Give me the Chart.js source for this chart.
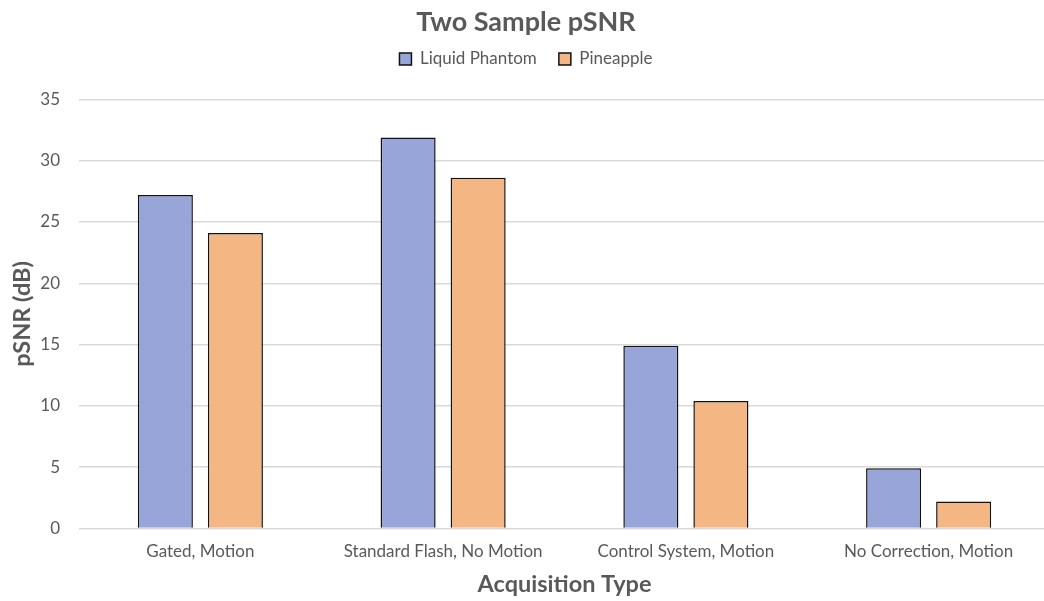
<!DOCTYPE html>
<html>
<head>
<meta charset="utf-8">
<script src="https://cdn.jsdelivr.net/npm/chart.js@4"></script>
<style>
  html, body { margin: 0; padding: 0; background: #ffffff; overflow: hidden; }
  #wrap { width: 1044px; height: 601px; }
</style>
</head>
<body>
<div id="wrap"><canvas id="chart" width="1044" height="601"></canvas></div>
<script>
const categories = ['Gated, Motion', 'Standard Flash, No Motion', 'Control System, Motion', 'No Correction, Motion'];
const liquidPhantom = [27.2, 31.9, 14.9, 4.9];
const pineapple = [24.1, 28.6, 10.4, 2.2];
const seriesNames = ['Liquid Phantom', 'Pineapple'];

const textGray = '#595959';
const fontFamily = 'Lato, "Open Sans", sans-serif';
const plotBleed = 6;   // plot area runs slightly past the right edge of the canvas

// extra breathing room between the legend and the plot
const legendGap = {
  id: 'legendGap',
  beforeInit(chart) {
    const fit = chart.legend.fit;
    chart.legend.fit = function () {
      fit.call(this);
      this.height += 22;
    };
  }
};

// stretch the category axis (and the plot area) past the right edge
const widenPlot = {
  id: 'widenPlot',
  afterLayout(chart) {
    const x = chart.scales.x;
    const r = chart.width + plotBleed;
    x.right = r;
    x.width = r - x.left;
    x.configure();
    chart.chartArea.right = r;
    chart.chartArea.width = r - chart.chartArea.left;
  }
};

new Chart(document.getElementById('chart'), {
  type: 'bar',
  data: {
    labels: categories,
    datasets: [
      {
        label: seriesNames[0],
        data: liquidPhantom,
        backgroundColor: '#97A5D9',
        borderColor: '#111111',
        borderWidth: 1.5,
        borderSkipped: 'bottom'
      },
      {
        label: seriesNames[1],
        data: pineapple,
        backgroundColor: '#F4B784',
        borderColor: '#111111',
        borderWidth: 1.5,
        borderSkipped: 'bottom'
      }
    ]
  },
  plugins: [legendGap, widenPlot],
  options: {
    responsive: false,
    animation: false,
    layout: { padding: { left: 8, right: 0, top: 6, bottom: 2 } },
    datasets: {
      bar: { categoryPercentage: 0.577, barPercentage: 0.786 }
    },
    plugins: {
      title: {
        display: true,
        text: 'Two Sample pSNR',
        color: textGray,
        font: { family: fontFamily, size: 27, weight: 'bold' },
        padding: { top: 0, bottom: -10 }
      },
      legend: {
        display: true,
        position: 'top',
        labels: {
          color: textGray,
          font: { family: fontFamily, size: 17 },
          boxWidth: 12,
          boxHeight: 12,
          padding: 22
        }
      },
      tooltip: { enabled: false }
    },
    scales: {
      x: {
        grid: { display: false, drawTicks: false },
        border: { display: false },
        ticks: {
          color: textGray,
          font: { family: fontFamily, size: 17 },
          padding: 13,
          maxRotation: 0
        },
        title: {
          display: true,
          text: 'Acquisition Type',
          color: textGray,
          font: { family: fontFamily, size: 23.5, weight: 'bold' },
          padding: { top: -4, bottom: 0 }
        },
        afterFit(scale) {
          scale.paddingLeft = 0;
          scale.paddingRight = 0;
        }
      },
      y: {
        min: 0,
        max: 35,
        grid: { color: '#d9d9d9', lineWidth: 1.5, drawTicks: false },
        border: { display: false },
        ticks: {
          stepSize: 5,
          color: textGray,
          font: { family: fontFamily, size: 17 },
          padding: 19
        },
        title: {
          display: true,
          text: 'pSNR (dB)',
          color: textGray,
          font: { family: fontFamily, size: 23.5, weight: 'bold' },
          padding: { top: 0, bottom: 5 }
        },
        afterFit(scale) {
          scale.width = 71;
        }
      }
    }
  }
});
</script>
</body>
</html>
